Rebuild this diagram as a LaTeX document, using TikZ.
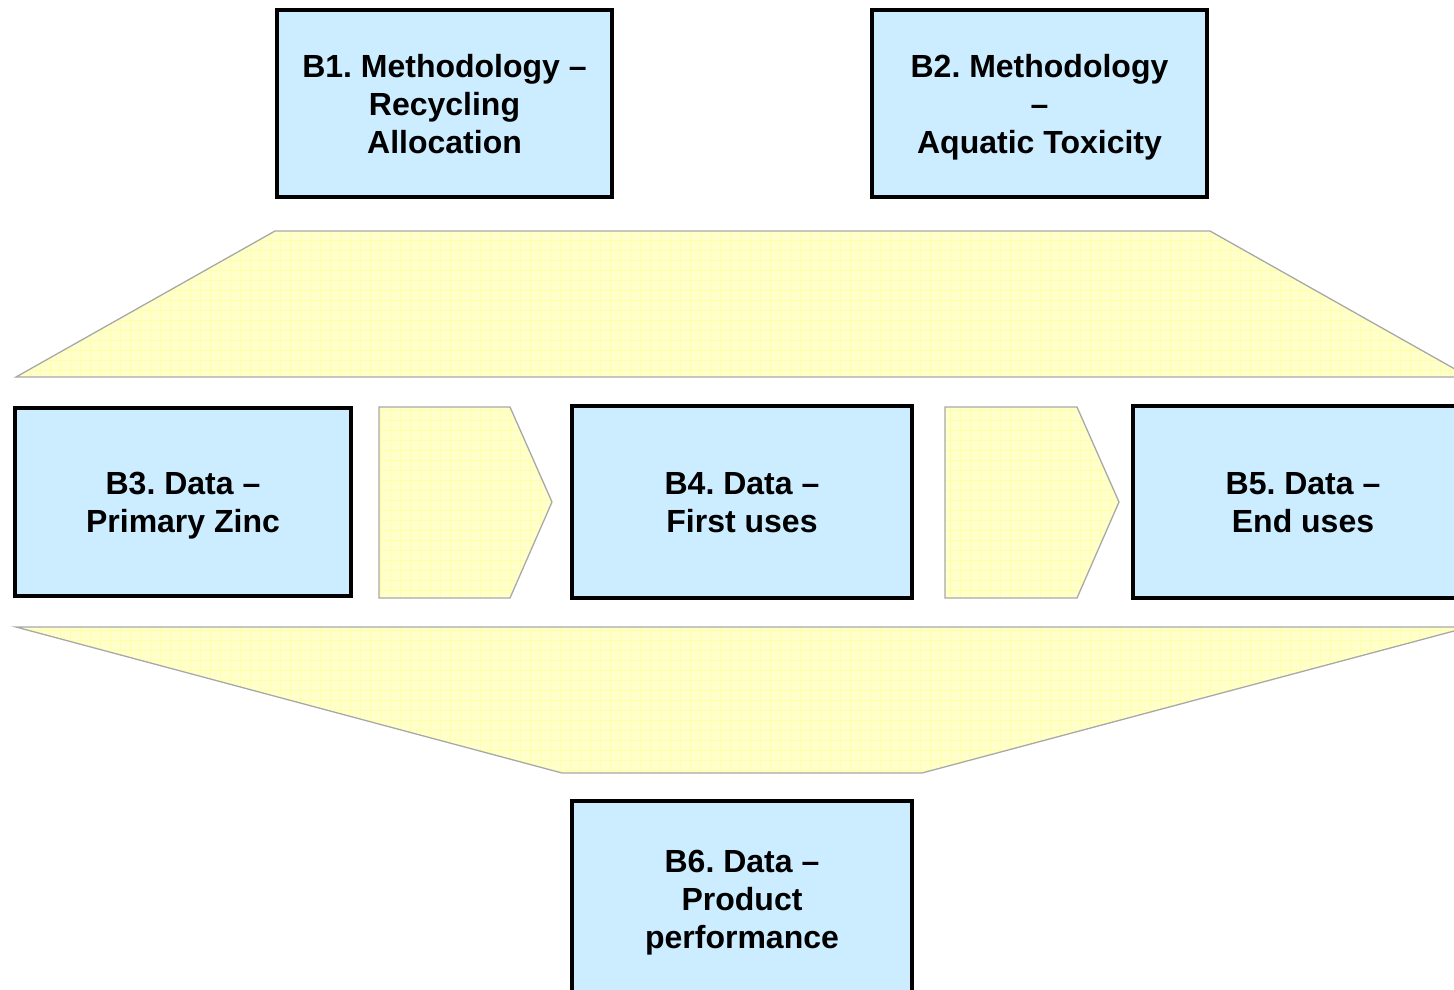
\documentclass[tikz,border=0pt]{standalone}
\usepackage{fontspec}
\setmainfont{Liberation Sans}
\definecolor{boxblue}{HTML}{CCECFF}
\definecolor{fanyellow}{HTML}{FFFFCC}
\definecolor{gridyellow}{HTML}{FFFFA6}
\definecolor{fanedge}{HTML}{A8A8A8}
\tikzset{
  stagebox/.style={draw=black, line width=4pt, fill=boxblue, align=center, inner sep=0pt,
    text depth=-4pt, font=\fontsize{32}{38}\selectfont\bfseries},
  fan/.style={draw=fanedge, line width=1.3pt, fill=fanyellow,
    path picture={\draw[gridyellow, line width=0.5pt] (path picture bounding box.south west) grid[step=10pt] (path picture bounding box.north east);}},
}
\frenchspacing

\begin{document}
\begin{tikzpicture}[x=1pt, y=-1pt]
\useasboundingbox (0,0) rectangle (1454,990);

% funnels and arrows
\path[fan] (16,377) -- (275,231) -- (1210,231) -- (1469,377) -- cycle;
\path[fan] (16,627) -- (1469,627) -- (922,773) -- (562,773) -- cycle;
\path[fan] (379,407) -- (510,407) -- (552,502) -- (510,598) -- (379,598) -- cycle;
\path[fan] (945,407) -- (1077,407) -- (1119,502) -- (1077,598) -- (945,598) -- cycle;

% methodology boxes
\node[stagebox, minimum width=335pt, minimum height=187pt] (b1) at (444.5,103.5) {B1. Methodology --\\Recycling\\Allocation};
\node[stagebox, minimum width=335pt, minimum height=187pt] (b2) at (1039.5,103.5) {B2. Methodology\\--\\Aquatic Toxicity};

% data boxes
\node[stagebox, minimum width=336pt, minimum height=188pt] (b3) at (183,502) {B3. Data --\\Primary Zinc};
\node[stagebox, minimum width=340pt, minimum height=192pt] (b4) at (742,502) {B4. Data --\\First uses};
\node[stagebox, minimum width=340pt, minimum height=192pt] (b5) at (1303,502) {B5. Data --\\End uses};
\node[stagebox, minimum width=340pt, minimum height=196pt] (b6) at (742,899) {B6. Data --\\Product\\performance};
\end{tikzpicture}
\end{document}
